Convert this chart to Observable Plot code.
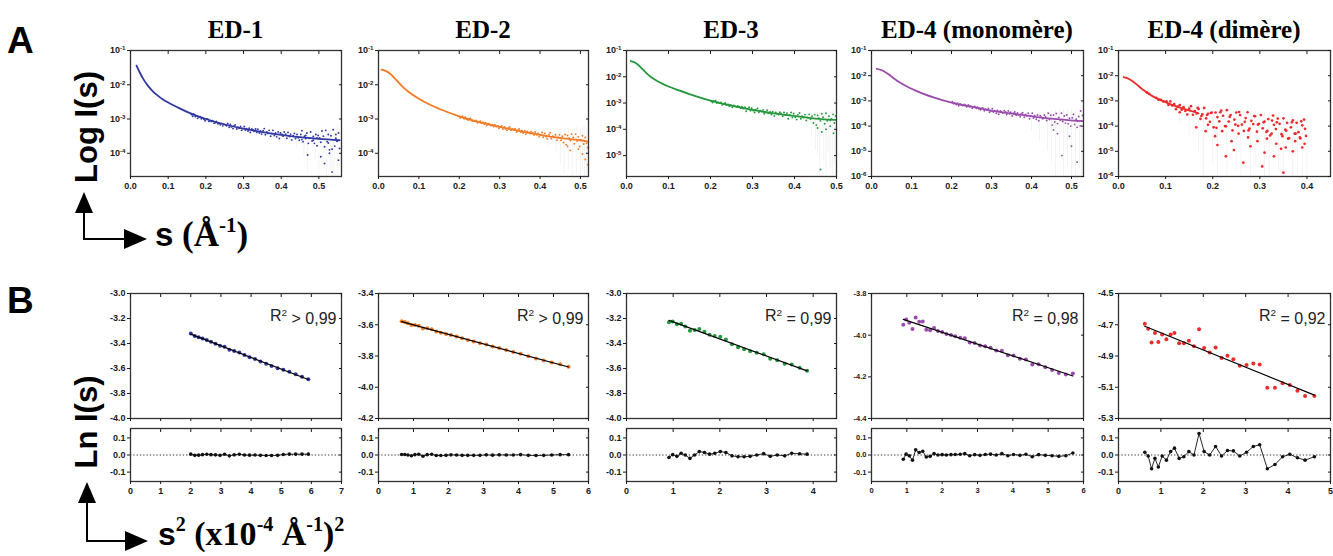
<!DOCTYPE html>
<html><head><meta charset="utf-8">
<script src="https://cdn.jsdelivr.net/npm/d3@7"></script>
<script src="https://cdn.jsdelivr.net/npm/@observablehq/plot@0.6"></script>
<style>
body{margin:0;background:#fff;}
#root{position:relative;width:1333px;height:556px;overflow:hidden;}
#root svg{position:absolute;}
</style></head><body><div id="root"></div>
<script>
// ---------------- DATA ----------------
const titles = ["ED-1", "ED-2", "ED-3", "ED-4 (monomère)", "ED-4 (dimère)"];
const r2Labels = ["R^2 > 0,99", "R^2 > 0,99", "R^2 = 0,99", "R^2 = 0,98", "R^2 = 0,92"];

// Panel A : axis ranges and ticks
const xDomA = [[0, 0.56], [0, 0.52], [0, 0.5], [0, 0.53], [0, 0.45]];
const yDomA = [[2.1e-5, 0.1], [2.1e-5, 0.1], [1.6e-6, 0.1], [1e-6, 0.1], [1e-6, 0.1]];
const xTicksA = [[0, .1, .2, .3, .4, .5], [0, .1, .2, .3, .4, .5], [0, .1, .2, .3, .4, .5], [0, .1, .2, .3, .4, .5], [0, .1, .2, .3, .4]];
const yExpA = [[-1, -2, -3, -4], [-1, -2, -3, -4], [-1, -2, -3, -4, -5], [-1, -2, -3, -4, -5, -6], [-1, -2, -3, -4, -5, -6]];

// Panel A : mean scattering curves [s, log10 I]
const curveA1 = [[0.016,-1.44],[0.025,-1.65],[0.035,-1.85],[0.045,-2.01],[0.055,-2.14],[0.065,-2.25],[0.075,-2.34],[0.085,-2.42],[0.1,-2.52],[0.125,-2.66],[0.15,-2.79],[0.2,-3.00],[0.25,-3.16],[0.3,-3.28],[0.35,-3.38],[0.4,-3.46],[0.45,-3.53],[0.5,-3.58],[0.555,-3.62]];
const curveA2 = [[0.007,-1.56],[0.02,-1.61],[0.03,-1.69],[0.04,-1.81],[0.05,-1.94],[0.06,-2.06],[0.075,-2.21],[0.1,-2.41],[0.125,-2.57],[0.15,-2.70],[0.2,-2.92],[0.25,-3.09],[0.3,-3.23],[0.35,-3.35],[0.4,-3.46],[0.45,-3.55],[0.5,-3.62],[0.518,-3.66]];
const curveA3 = [[0.01,-1.40],[0.02,-1.46],[0.03,-1.58],[0.04,-1.74],[0.05,-1.90],[0.06,-2.03],[0.075,-2.18],[0.1,-2.37],[0.125,-2.52],[0.15,-2.66],[0.2,-2.91],[0.25,-3.10],[0.3,-3.26],[0.35,-3.39],[0.4,-3.49],[0.45,-3.59],[0.498,-3.64]];
const curveA4 = [[0.013,-1.73],[0.025,-1.78],[0.035,-1.86],[0.045,-1.97],[0.058,-2.13],[0.07,-2.26],[0.085,-2.40],[0.106,-2.56],[0.13,-2.72],[0.155,-2.86],[0.205,-3.09],[0.256,-3.25],[0.306,-3.41],[0.355,-3.51],[0.405,-3.62],[0.456,-3.71],[0.506,-3.78],[0.528,-3.80]];
const curveA5 = [[0.011,-2.06],[0.021,-2.12],[0.03,-2.22],[0.043,-2.42],[0.055,-2.60],[0.072,-2.81],[0.085,-2.93],[0.1,-3.05],[0.12,-3.20],[0.136,-3.30],[0.155,-3.41],[0.17,-3.49]];

// Panel A : scattered points [s, log10 I]
const scatterA1 = [[0.162,-2.87],[0.165,-2.92],[0.168,-2.86],[0.172,-2.93],[0.175,-2.91],[0.178,-2.98],[0.182,-2.95],[0.185,-2.93],[0.188,-2.99],[0.192,-2.97],[0.195,-3.01],[0.198,-3.05],[0.202,-3.01],[0.205,-3.00],[0.208,-3.07],[0.212,-3.05],[0.215,-3.07],[0.218,-3.05],[0.222,-3.12],[0.225,-3.10],[0.228,-3.07],[0.232,-3.14],[0.235,-3.12],[0.238,-3.17],[0.242,-3.13],[0.245,-3.20],[0.248,-3.15],
[0.252,-3.17],[0.255,-3.20],[0.258,-3.13],[0.262,-3.24],[0.265,-3.16],[0.268,-3.23],[0.272,-3.28],[0.275,-3.20],[0.278,-3.17],[0.282,-3.29],[0.285,-3.24],[0.288,-3.27],[0.292,-3.22],[0.295,-3.33],[0.298,-3.28],[0.302,-3.22],[0.305,-3.32],[0.308,-3.28],[0.312,-3.35],[0.315,-3.27],[0.318,-3.39],[0.322,-3.29],[0.325,-3.32],[0.328,-3.36],[0.332,-3.29],[0.335,-3.39],[0.338,-3.30],[0.342,-3.41],[0.345,-3.35],[0.348,-3.44],
[0.352,-3.34],[0.355,-3.28],[0.358,-3.46],[0.362,-3.38],[0.365,-3.42],[0.368,-3.33],[0.372,-3.50],[0.375,-3.42],[0.378,-3.33],[0.382,-3.48],[0.385,-3.41],[0.388,-3.52],[0.392,-3.38],[0.395,-3.57],[0.398,-3.41],[0.402,-3.45],[0.405,-3.50],[0.408,-3.38],[0.412,-3.44],[0.415,-3.56],[0.418,-3.39],[0.422,-3.51],[0.425,-3.44],[0.428,-3.61],[0.432,-3.49],[0.435,-3.42],[0.438,-3.57],[0.442,-3.45],[0.445,-3.55],[0.448,-3.62],
[0.452,-3.45],[0.455,-3.34],[0.458,-3.66],[0.462,-3.50],[0.465,-3.57],[0.468,-3.41],[0.472,-3.71],[0.475,-3.56],[0.478,-3.38],[0.482,-3.64],[0.485,-3.51],[0.488,-3.71],[0.492,-3.45],[0.495,-3.78],[0.498,-3.48],[0.502,-3.55],[0.505,-3.68],[0.508,-3.35],[0.512,-3.50],[0.515,-3.81],[0.518,-3.33],[0.522,-3.66],[0.525,-3.45],[0.528,-3.90],[0.532,-3.49],[0.535,-3.88],[0.538,-3.31],[0.542,-3.79],[0.545,-3.56],[0.548,-3.65],[0.552,-3.41],[0.555,-3.86],
[0.455,-3.60],[0.465,-3.48],[0.485,-3.62],[0.495,-3.55],[0.525,-3.70],[0.545,-3.45],[0.47,-4.05],[0.505,-4.10],[0.515,-4.30],[0.535,-4.55],[0.552,-4.20],[0.528,-4.00]];
const scatterA2 = [[0.202,-2.97],[0.205,-2.94],[0.208,-2.92],[0.212,-2.99],[0.215,-2.95],[0.218,-3.00],[0.222,-3.03],[0.225,-2.99],[0.228,-2.98],[0.232,-3.06],[0.235,-3.04],[0.238,-3.06],[0.242,-3.04],[0.245,-3.11],[0.248,-3.09],[0.252,-3.06],[0.255,-3.12],[0.258,-3.10],[0.262,-3.15],[0.265,-3.11],[0.268,-3.19],[0.272,-3.14],[0.275,-3.16],[0.278,-3.19],[0.282,-3.17],[0.285,-3.22],[0.288,-3.17],[0.292,-3.22],[0.295,-3.20],[0.298,-3.27],
[0.302,-3.23],[0.305,-3.20],[0.308,-3.29],[0.312,-3.23],[0.315,-3.29],[0.318,-3.33],[0.322,-3.26],[0.325,-3.23],[0.328,-3.33],[0.332,-3.29],[0.335,-3.32],[0.338,-3.28],[0.342,-3.38],[0.345,-3.34],[0.348,-3.29],[0.352,-3.38],[0.355,-3.34],[0.358,-3.41],[0.362,-3.34],[0.365,-3.44],[0.368,-3.36],[0.372,-3.39],[0.375,-3.42],[0.378,-3.37],[0.382,-3.41],[0.385,-3.47],[0.388,-3.38],[0.392,-3.46],[0.395,-3.42],[0.398,-3.52],
[0.402,-3.46],[0.405,-3.39],[0.408,-3.53],[0.412,-3.42],[0.415,-3.52],[0.418,-3.58],[0.422,-3.46],[0.425,-3.40],[0.428,-3.57],[0.432,-3.50],[0.435,-3.53],[0.438,-3.46],[0.442,-3.62],[0.445,-3.54],[0.448,-3.46],
[0.452,-3.62],[0.455,-3.50],[0.458,-3.69],[0.462,-3.45],[0.465,-3.75],[0.468,-3.48],[0.472,-3.56],[0.475,-3.63],[0.478,-3.44],[0.482,-3.54],[0.485,-3.72],[0.488,-3.44],[0.492,-3.64],[0.495,-3.52],[0.498,-3.80],[0.502,-3.61],[0.505,-3.49],[0.508,-3.73],[0.512,-3.54],[0.515,-3.71],[0.518,-3.83],
[0.475,-3.92],[0.505,-4.02],[0.512,-4.18],[0.518,-4.33],[0.495,-3.88],[0.468,-3.80]];
const scatterA3 = [[0.202,-2.93],[0.205,-2.98],[0.208,-2.93],[0.212,-2.91],[0.215,-3.00],[0.218,-2.98],[0.222,-3.00],[0.225,-2.98],[0.228,-3.07],[0.232,-3.04],[0.235,-3.00],[0.238,-3.08],[0.242,-3.05],[0.245,-3.12],[0.248,-3.07],[0.252,-3.16],[0.255,-3.09],[0.258,-3.12],[0.262,-3.15],[0.265,-3.11],[0.268,-3.14],[0.272,-3.20],[0.275,-3.14],[0.278,-3.21],
[0.282,-3.16],[0.285,-3.31],[0.288,-3.22],[0.292,-3.16],[0.295,-3.29],[0.298,-3.20],[0.302,-3.29],[0.305,-3.36],[0.308,-3.25],[0.312,-3.21],[0.315,-3.35],[0.318,-3.29],[0.322,-3.32],[0.325,-3.26],[0.328,-3.41],[0.332,-3.35],[0.335,-3.27],[0.338,-3.39],[0.342,-3.34],[0.345,-3.44],[0.348,-3.33],[0.352,-3.49],[0.355,-3.36],[0.358,-3.40],[0.362,-3.44],[0.365,-3.35],[0.368,-3.40],[0.372,-3.50],[0.375,-3.36],[0.378,-3.46],
[0.382,-3.39],[0.385,-3.60],[0.388,-3.45],[0.392,-3.36],[0.395,-3.55],[0.398,-3.40],[0.402,-3.54],[0.405,-3.63],[0.408,-3.45],[0.412,-3.38],[0.415,-3.60],[0.418,-3.50],[0.422,-3.55],[0.425,-3.44],[0.428,-3.66],[0.432,-3.56],[0.435,-3.43],[0.438,-3.62],
[0.442,-3.50],[0.445,-3.76],[0.448,-3.44],[0.452,-3.84],[0.455,-3.47],[0.458,-3.58],[0.462,-3.68],[0.465,-3.41],[0.468,-3.54],[0.472,-3.79],[0.475,-3.39],[0.478,-3.67],[0.482,-3.50],[0.485,-3.88],[0.488,-3.61],[0.492,-3.43],[0.495,-3.76],[0.498,-3.49],
[0.462,-5.53],[0.455,-3.95],[0.465,-4.10],[0.475,-4.00],[0.493,-4.15],[0.485,-3.66]];
const scatterA4 = [[0.202,-3.03],[0.205,-3.11],[0.208,-3.08],[0.212,-3.14],[0.215,-3.09],[0.218,-3.19],[0.222,-3.12],[0.225,-3.15],[0.228,-3.18],[0.232,-3.14],[0.235,-3.17],[0.238,-3.23],[0.242,-3.16],[0.245,-3.23],[0.248,-3.20],[0.252,-3.29],[0.255,-3.24],[0.258,-3.22],[0.262,-3.29],[0.265,-3.25],[0.268,-3.31],[0.272,-3.35],[0.275,-3.30],[0.278,-3.28],
[0.282,-3.39],[0.285,-3.33],[0.288,-3.36],[0.292,-3.30],[0.295,-3.45],[0.298,-3.39],[0.302,-3.31],[0.305,-3.44],[0.308,-3.39],[0.312,-3.49],[0.315,-3.38],[0.318,-3.53],[0.322,-3.40],[0.325,-3.44],[0.328,-3.48],[0.332,-3.39],[0.335,-3.44],[0.338,-3.54],[0.342,-3.40],[0.345,-3.51],[0.348,-3.45],[0.352,-3.60],[0.355,-3.50],[0.358,-3.44],[0.362,-3.57],[0.365,-3.48],[0.368,-3.56],[0.372,-3.63],[0.375,-3.51],[0.378,-3.47],
[0.382,-3.65],[0.385,-3.54],[0.388,-3.59],[0.392,-3.49],[0.395,-3.71],[0.398,-3.61],[0.402,-3.49],[0.405,-3.68],[0.408,-3.58],[0.412,-3.73],[0.415,-3.56],[0.418,-3.79],[0.422,-3.59],[0.425,-3.65],[0.428,-3.71],[0.432,-3.56],[0.435,-3.63],[0.438,-3.78],
[0.442,-3.49],[0.445,-3.74],[0.448,-3.57],[0.452,-3.96],[0.455,-3.56],[0.458,-3.84],[0.462,-3.50],[0.465,-3.90],[0.468,-3.66],[0.472,-3.76],[0.475,-3.49],[0.478,-3.82],[0.482,-3.60],[0.485,-3.88],[0.488,-3.56],[0.492,-3.91],[0.495,-3.69],[0.498,-4.00],[0.502,-3.67],[0.505,-3.53],[0.508,-3.93],[0.512,-3.73],[0.515,-3.81],[0.518,-3.62],[0.522,-3.99],[0.525,-3.80],[0.528,-3.58],
[0.476,-5.17],[0.514,-5.43],[0.50,-4.80],[0.523,-3.40],[0.465,-4.30],[0.495,-4.40],[0.455,-4.15],[0.514,-4.05]];
const scatterA5 = [[0.06,-2.66],[0.065,-2.72],[0.08,-2.88],[0.085,-2.95],[0.09,-2.96],[0.095,-3.02],
[0.102,-3.02],[0.106,-3.16],[0.110,-3.02],[0.114,-3.18],[0.118,-3.13],[0.122,-3.33],[0.126,-3.23],[0.130,-3.17],[0.134,-3.35],[0.138,-3.25],[0.142,-3.40],[0.146,-3.54],[0.150,-3.31],[0.154,-3.21],[0.158,-3.55],
[0.162,-3.40],[0.166,-3.50],[0.170,-3.32],[0.174,-3.71],[0.178,-3.53],[0.182,-3.28],[0.186,-3.69],[0.190,-3.51],[0.194,-3.83],[0.198,-3.46],[0.202,-4.05],[0.206,-3.46],[0.210,-3.64],[0.214,-3.81],[0.218,-3.38],
[0.222,-3.59],[0.226,-4.00],[0.230,-3.37],[0.234,-3.82],[0.238,-3.56],[0.242,-4.17],[0.246,-3.74],[0.250,-3.46],[0.254,-3.99],[0.258,-3.56],[0.262,-3.94],[0.266,-4.19],[0.270,-3.68],[0.274,-3.45],[0.278,-4.10],
[0.282,-3.79],[0.286,-3.92],[0.290,-3.61],[0.294,-4.22],[0.298,-3.91],[0.302,-3.56],[0.306,-4.09],[0.310,-3.82],[0.314,-4.23],[0.318,-3.72],[0.322,-4.37],[0.326,-3.78],[0.330,-3.95],[0.334,-4.12],[0.338,-3.70],
[0.342,-3.91],[0.346,-4.32],[0.350,-3.69],[0.354,-4.14],[0.358,-3.87],[0.362,-4.48],[0.366,-4.05],[0.370,-3.77],[0.374,-4.30],[0.378,-3.87],[0.382,-4.24],[0.386,-4.49],[0.390,-3.97],[0.394,-3.74],[0.398,-4.39],
[0.168,-3.28],[0.176,-3.60],[0.188,-3.56],[0.196,-3.48],[0.208,-4.07],[0.216,-3.45],[0.228,-4.01],[0.236,-3.63],[0.248,-3.94],[0.256,-3.44],[0.268,-3.83],[0.276,-4.17],[0.288,-3.60],[0.296,-3.94],[0.308,-3.85],[0.316,-4.19],[0.328,-3.58],[0.336,-3.85],[0.348,-4.40],[0.356,-4.18],[0.368,-3.85],[0.376,-4.30],[0.388,-3.81],[0.396,-4.11],
[0.228,-5.20],[0.35,-5.85],[0.265,-5.45],[0.305,-5.60],[0.24,-4.60],[0.205,-4.40],[0.295,-4.60],[0.335,-4.70],[0.355,-4.85],[0.375,-4.60],[0.395,-4.70],[0.315,-4.50],[0.275,-4.45],[0.185,-4.20],[0.165,-4.05],[0.255,-4.30],[0.325,-4.30],[0.385,-4.45],[0.22,-4.20],[0.36,-4.50],[0.19,-3.95],[0.13,-3.45],
[0.21,-4.75],[0.245,-4.95],[0.28,-4.80],[0.31,-5.05],[0.345,-4.90],[0.37,-5.00],[0.39,-4.85],[0.33,-5.20]];

// Panel A : error bars [s, log10 top, log10 bottom]
const errA1 = [[0.38,-3.30,-3.62],[0.40,-3.32,-3.66],[0.42,-3.33,-3.72],[0.44,-3.35,-3.85],[0.46,-3.30,-4.10],[0.47,-3.32,-4.60],[0.49,-3.30,-4.20],[0.50,-3.28,-4.70],[0.51,-3.30,-4.40],[0.52,-3.25,-4.80],[0.53,-3.30,-4.50],[0.535,-3.25,-4.70],[0.54,-3.28,-4.80],[0.55,-3.20,-4.70]];
const errA2 = [[0.42,-3.35,-3.80],[0.44,-3.30,-4.00],[0.45,-3.30,-4.30],[0.46,-3.32,-4.60],[0.47,-3.28,-4.50],[0.48,-3.30,-4.70],[0.49,-3.25,-4.60],[0.50,-3.30,-4.70],[0.505,-3.25,-4.50],[0.51,-3.22,-4.70],[0.515,-3.28,-4.60]];
const errA3 = [[0.43,-3.40,-4.00],[0.44,-3.38,-4.30],[0.45,-3.40,-4.80],[0.455,-3.35,-5.00],[0.46,-3.35,-5.80],[0.47,-3.35,-5.20],[0.475,-3.30,-5.80],[0.48,-3.35,-4.90],[0.485,-3.30,-5.50],[0.49,-3.30,-5.80],[0.495,-3.30,-5.30]];
const errA4 = [[0.40,-3.45,-4.20],[0.42,-3.45,-4.60],[0.44,-3.42,-5.00],[0.45,-3.40,-5.50],[0.46,-3.40,-6.00],[0.47,-3.38,-5.20],[0.48,-3.38,-6.00],[0.49,-3.35,-5.60],[0.50,-3.35,-6.00],[0.51,-3.35,-6.00],[0.52,-3.35,-5.70],[0.525,-3.30,-6.00]];
const errA5 = [[0.13,-3.10,-3.90],[0.15,-3.10,-4.40],[0.17,-3.15,-5.00],[0.18,-3.20,-6.00],[0.20,-3.20,-5.50],[0.21,-3.20,-6.00],[0.23,-3.30,-6.00],[0.25,-3.30,-5.80],[0.26,-3.35,-6.00],[0.28,-3.40,-6.00],[0.29,-3.40,-5.60],[0.31,-3.45,-6.00],[0.32,-3.45,-6.00],[0.34,-3.50,-5.80],[0.35,-3.50,-6.00],[0.37,-3.55,-6.00],[0.38,-3.55,-5.90],[0.39,-3.60,-6.00],[0.40,-3.60,-6.00]];

// Panel B : axis ranges and ticks
const xDomB = [[0, 7], [0, 6], [0, 4.5], [0, 6], [0, 5]];
const xTicksB = [[0,1,2,3,4,5,6,7], [0,1,2,3,4,5,6], [0,1,2,3,4], [0,1,2,3,4,5,6], [0,1,2,3,4,5]];
const yDomB = [[-4.0, -3.0], [-4.2, -3.4], [-4.0, -3.0], [-4.4, -3.8], [-5.3, -4.5]];
const yTicksB = [[-3.0,-3.2,-3.4,-3.6,-3.8,-4.0], [-3.4,-3.6,-3.8,-4.0,-4.2], [-3.0,-3.2,-3.4,-3.6,-3.8,-4.0], [-3.8,-4.0,-4.2,-4.4], [-4.5,-4.7,-4.9,-5.1,-5.3]];
const resDom = [-0.155, 0.155];
const resTicks = [0.1, 0.0, -0.1];

// Panel B : Guinier data  s² (x10^-4 Å^-2), ln I, residuals
const s2B1 = [2.00,2.13,2.26,2.39,2.53,2.67,2.82,2.97,3.12,3.28,3.44,3.61,3.78,3.95,4.13,4.31,4.50,4.68,4.88,5.07,5.27,5.48,5.69,5.90];
const lnB1 = [-3.320,-3.339,-3.350,-3.360,-3.371,-3.386,-3.401,-3.418,-3.426,-3.450,-3.459,-3.472,-3.492,-3.509,-3.524,-3.543,-3.562,-3.579,-3.597,-3.609,-3.626,-3.646,-3.665,-3.685];
const resB1 = [0.005,-0.002,-0.001,0.002,0.004,0.002,0.001,-0.002,0.004,-0.005,0.001,0.004,0,-0.001,0,-0.002,-0.003,-0.003,-0.002,0.003,0.005,0.005,0.005,0.005];
const s2B2 = [0.66,0.75,0.84,0.94,1.04,1.15,1.27,1.39,1.52,1.65,1.78,1.93,2.07,2.23,2.39,2.55,2.72,2.90,3.08,3.26,3.45,3.65,3.85,4.06,4.28,4.50,4.72,4.95,5.19,5.43];
const lnB2 = [-3.577,-3.582,-3.591,-3.601,-3.601,-3.606,-3.624,-3.622,-3.628,-3.643,-3.651,-3.659,-3.665,-3.675,-3.687,-3.697,-3.707,-3.718,-3.726,-3.739,-3.749,-3.762,-3.774,-3.785,-3.802,-3.816,-3.829,-3.841,-3.853,-3.868];
const resB2 = [0.003,0.003,0,-0.004,0.002,0.004,-0.007,0.002,0.004,-0.003,-0.003,-0.002,0.001,0,-0.002,-0.002,-0.002,-0.002,0.001,-0.001,0.001,0,0,0.002,-0.002,-0.003,-0.002,0,0.002,0.002];
const s2B3 = [0.91,0.99,1.08,1.17,1.26,1.36,1.46,1.56,1.67,1.78,1.89,2.01,2.13,2.26,2.39,2.52,2.65,2.79,2.94,3.08,3.23,3.39,3.54,3.71,3.87];
const lnB3 = [-3.230,-3.224,-3.246,-3.241,-3.263,-3.297,-3.291,-3.284,-3.305,-3.330,-3.340,-3.346,-3.368,-3.406,-3.429,-3.446,-3.462,-3.474,-3.486,-3.521,-3.534,-3.561,-3.567,-3.593,-3.617];
const resB3 = [-0.015,0.002,-0.008,0.010,0,-0.020,0,0.020,0.015,0.005,0.010,0.020,0.015,-0.005,-0.010,-0.010,-0.008,0,0.008,-0.008,0,-0.005,0.010,0.007,0.005];
const s2B4 = [0.90,0.98,1.07,1.16,1.25,1.35,1.45,1.55,1.66,1.77,1.88,2.00,2.12,2.25,2.37,2.51,2.64,2.78,2.92,3.07,3.22,3.37,3.53,3.69,3.86,4.02,4.20,4.37,4.55,4.73,4.92,5.11,5.30,5.50,5.70];
const lnB4 = [-3.950,-3.925,-3.940,-3.970,-3.915,-3.935,-3.934,-3.974,-3.976,-3.966,-3.980,-3.985,-3.994,-3.999,-4.005,-4.012,-4.015,-4.035,-4.037,-4.050,-4.053,-4.060,-4.074,-4.075,-4.096,-4.098,-4.113,-4.117,-4.141,-4.139,-4.154,-4.167,-4.182,-4.189,-4.184];
const resB4 = [-0.025,0.005,-0.005,-0.030,0.030,0.015,0.022,-0.012,-0.008,0.008,0,0.002,0,0.002,0.003,0.004,0.008,-0.004,0.002,-0.002,0.003,0.005,0,0.008,-0.004,0.003,-0.002,0.004,-0.010,0.002,-0.002,-0.004,-0.008,-0.004,0.012];
const s2B5 = [0.62,0.70,0.78,0.86,0.94,1.03,1.13,1.23,1.32,1.43,1.54,1.66,1.78,1.90,2.02,2.15,2.29,2.43,2.57,2.71,2.86,3.02,3.18,3.33,3.51,3.69,3.87,4.04,4.22,4.40,4.62];
const lnB5 = [-4.693,-4.725,-4.814,-4.752,-4.810,-4.763,-4.793,-4.763,-4.752,-4.818,-4.818,-4.803,-4.837,-4.729,-4.848,-4.878,-4.846,-4.912,-4.899,-4.920,-4.963,-4.958,-4.948,-4.954,-5.103,-5.103,-5.075,-5.086,-5.122,-5.156,-5.156];
const resB5 = [0.016,-0.006,-0.080,-0.020,-0.070,-0.006,-0.030,0.020,0.040,-0.020,-0.010,0.020,0,0.126,0.020,0,0.050,-0.006,0.026,0.024,-0.006,0.016,0.050,0.060,-0.080,-0.056,-0.010,0.004,-0.016,-0.030,-0.010];

// ---------------- LAYOUT / STYLE ----------------
const colors = ["#3138a2", "#f47a25", "#24983c", "#9a4cac", "#ee2b2b"];
const frames = [[130, 341], [378, 588], [626, 836], [871, 1083], [1118, 1330]];
const sans = '"Liberation Sans", Arial, Helvetica, sans-serif';
const serif = '"Liberation Serif", "Times New Roman", serif';
const root = document.getElementById("root");

const curvesA = [curveA1, curveA2, curveA3, curveA4, curveA5];
const scattersA = [scatterA1, scatterA2, scatterA3, scatterA4, scatterA5];
const errsA = [errA1, errA2, errA3, errA4, errA5];
const s2B = [s2B1, s2B2, s2B3, s2B4, s2B5];
const lnB = [lnB1, lnB2, lnB3, lnB4, lnB5];
const resB = [resB1, resB2, resB3, resB4, resB5];

function place(svg, left, top) {
  svg.style.position = "absolute";
  svg.style.left = left + "px";
  svg.style.top = top + "px";
  root.appendChild(svg);
}
function style(fs) {
  return {fontFamily: sans, fontSize: fs + "px", fontWeight: "bold", color: "#1a1a1a", background: "transparent", overflow: "visible"};
}
const frameStyle = {stroke: "#333", strokeWidth: 1.3};

// overlay for panel letters, titles, axis-arrow legends
const ov = d3.select(root).append("svg").attr("width", 1333).attr("height", 556)
  .style("left", "0px").style("top", "0px").style("white-space", "pre");
ov.append("text").attr("x", 7).attr("y", 53).attr("font-family", sans).attr("font-weight", "bold").attr("font-size", 37).text("A");
ov.append("text").attr("x", 7).attr("y", 313).attr("font-family", sans).attr("font-weight", "bold").attr("font-size", 37).text("B");
titles.forEach((t, i) => {
  ov.append("text").attr("x", (frames[i][0] + frames[i][1]) / 2).attr("y", 38)
    .attr("text-anchor", "middle").attr("font-family", serif).attr("font-weight", "bold")
    .attr("font-size", 25).text(t);
});
ov.append("text").attr("transform", "translate(97,127) rotate(-90)").attr("text-anchor", "middle")
  .attr("font-family", sans).attr("font-weight", "bold").attr("font-size", 31).text("Log I(s)");
ov.append("text").attr("transform", "translate(97,422) rotate(-90)").attr("text-anchor", "middle")
  .attr("font-family", sans).attr("font-weight", "bold").attr("font-size", 31).text("Ln I(s)");

function arrows(x, yTip, yCorner, xTip) {
  const g = ov.append("g").attr("stroke", "#000").attr("fill", "#000");
  g.append("line").attr("x1", x).attr("y1", yCorner).attr("x2", x).attr("y2", yTip + 18).attr("stroke-width", 2);
  g.append("line").attr("x1", x - 1).attr("y1", yCorner).attr("x2", xTip - 20).attr("y2", yCorner).attr("stroke-width", 2);
  g.append("path").attr("stroke", "none").attr("d", `M${x - 9},${yTip + 21}L${x + 9},${yTip + 21}L${x},${yTip}Z`);
  g.append("path").attr("stroke", "none").attr("d", `M${xTip - 23},${yCorner - 10}L${xTip - 23},${yCorner + 10}L${xTip},${yCorner}Z`);
}
arrows(84, 192, 239, 147);
arrows(87, 482, 541, 148);

function richText(x, y, size, parts) {
  const t = ov.append("text").attr("x", x).attr("y", y).attr("font-weight", "bold").attr("font-family", serif).attr("font-size", size);
  let shift = 0;
  const sup = Math.round(size * 0.6), rise = Math.round(size * 0.4);
  for (const [txt, kind] of parts) {
    const sp = t.append("tspan").text(txt);
    if (kind === "sans") sp.attr("font-family", sans).attr("font-size", size - 2);
    if (kind === "sup") { sp.attr("font-size", sup).attr("dy", shift ? 0 : -rise); shift = rise; }
    else if (shift !== 0) { sp.attr("dy", shift); shift = 0; }
  }
}
richText(155, 246, 35, [["s", "sans"], [" (Å", ""], ["-1", "sup"], [")", ""]]);
richText(158, 545, 34, [["s", "sans"], ["2", "sup"], [" (x10", ""], ["-4", "sup"], [" Å", ""], ["-1", "sup"], [")", ""], ["2", "sup"]]);

// turn "a^b rest" texts into base + superscript tspans
function superscripts(svg, selector, rise, scale) {
  d3.select(svg).selectAll(selector).each(function () {
    const t = this.textContent;
    if (!t.includes("^")) return;
    const [base, rest] = t.split("^");
    const exp = rest.split(" ")[0];
    const tail = rest.slice(exp.length);
    const s = d3.select(this);
    s.text(null);
    s.append("tspan").text(base);
    s.append("tspan").attr("dy", `-${rise}em`).attr("font-size", `${scale}em`).text(exp);
    if (tail) s.append("tspan").attr("dy", `${rise}em`).text(tail);
  });
}

// ---------------- PANEL A ----------------
for (let i = 0; i < 5; i++) {
  const [fl, fr] = frames[i];
  const mL = 34, mR = 4, mT = 4, mB = 20, h = 126;
  const color = colors[i];
  const curve = curvesA[i].map(([s, lg]) => ({s, I: 10 ** lg}));
  const pts = scattersA[i].map(([s, lg]) => ({s, I: 10 ** lg}));
  const errs = errsA[i].map(([s, a, b]) => ({s, hi: 10 ** a, lo: Math.max(10 ** b, yDomA[i][0])}));
  const yt = yExpA[i].map(e => 10 ** e);
  const svg = Plot.plot({
    width: mL + (fr - fl) + mR, height: mT + h + mB,
    marginLeft: mL, marginRight: mR, marginTop: mT, marginBottom: mB,
    style: style(9),
    x: {domain: xDomA[i]},
    y: {type: "log", domain: yDomA[i]},
    marks: [
      Plot.ruleX(errs, {x: "s", y1: "lo", y2: "hi", stroke: "#c4c4c4", strokeOpacity: 0.35, strokeWidth: 0.6, clip: true}),
      Plot.line(curve, {x: "s", y: "I", stroke: color, strokeWidth: 1.8, curve: "monotone-x", clip: true}),
      Plot.dot(pts, {x: "s", y: "I", r: i === 4 ? 1.35 : 0.95, fill: color, clip: true}),
      Plot.frame(frameStyle),
      Plot.axisX(xTicksA[i], {anchor: "bottom", tickSize: 3, tickPadding: 3, tickFormat: d3.format(".1f"), label: null}),
      Plot.axisX(xTicksA[i], {anchor: "top", tickSize: -3, tickFormat: () => "", label: null}),
      Plot.axisY(yt, {anchor: "left", tickSize: 3, tickPadding: 2, tickFormat: d => "10^" + Math.round(Math.log10(d)), label: null}),
      Plot.axisY(yt, {anchor: "right", tickSize: -3, tickFormat: () => "", label: null})
    ]
  });
  superscripts(svg, 'g[aria-label="y-axis tick label"] text', 0.5, 0.68);
  place(svg, fl - mL, 50 - mT);
}

// ---------------- PANEL B ----------------
for (let i = 0; i < 5; i++) {
  const [fl, fr] = frames[i];
  const mL = 34, mR = 4;
  const fs = i === 3 ? 7.5 : 9;
  const color = colors[i];
  const pts = s2B[i].map((x, k) => ({x, y: lnB[i][k]}));
  const res = s2B[i].map((x, k) => ({x, r: resB[i][k]}));
  const fmt = d => d.toFixed(1);

  const top = Plot.plot({
    width: mL + (fr - fl) + mR, height: 4 + 125 + 6,
    marginLeft: mL, marginRight: mR, marginTop: 4, marginBottom: 6,
    style: style(fs),
    x: {domain: xDomB[i]},
    y: {domain: yDomB[i]},
    marks: [
      Plot.dot(pts, {x: "x", y: "y", r: 2, fill: color}),
      Plot.linearRegressionY(pts, {x: "x", y: "y", stroke: "#000", strokeWidth: 1.2, ci: 0}),
      Plot.frame(frameStyle),
      Plot.text([r2Labels[i]], {frameAnchor: "top-right", dx: -5, dy: 16, text: d => d, fontSize: 16, fontWeight: "normal", fill: "#222", textAnchor: "end"}),
      Plot.axisX(xTicksB[i], {anchor: "bottom", tickSize: 3, tickFormat: () => "", label: null}),
      Plot.axisX(xTicksB[i], {anchor: "top", tickSize: -3, tickFormat: () => "", label: null}),
      Plot.axisY(yTicksB[i], {anchor: "left", tickSize: 3, tickPadding: 2, tickFormat: fmt, label: null}),
      Plot.axisY(yTicksB[i], {anchor: "right", tickSize: -3, tickFormat: () => "", label: null})
    ]
  });
  superscripts(top, 'g[aria-label="text"] text', 0.45, 0.62);
  place(top, fl - mL, 293 - 4);

  const bot = Plot.plot({
    width: mL + (fr - fl) + mR, height: 4 + 53 + 20,
    marginLeft: mL, marginRight: mR, marginTop: 4, marginBottom: 20,
    style: style(fs),
    x: {domain: xDomB[i]},
    y: {domain: resDom},
    marks: [
      Plot.ruleY([0], {stroke: "#333", strokeWidth: 1, strokeDasharray: "1.3,2"}),
      Plot.line(res, {x: "x", y: "r", stroke: "#111", strokeWidth: 0.9}),
      Plot.dot(res, {x: "x", y: "r", r: 1.8, fill: "#111"}),
      Plot.frame(frameStyle),
      Plot.axisX(xTicksB[i], {anchor: "bottom", tickSize: 3, tickPadding: 3, tickFormat: d => String(d), label: null}),
      Plot.axisX(xTicksB[i], {anchor: "top", tickSize: -3, tickFormat: () => "", label: null}),
      Plot.axisY(resTicks, {anchor: "left", tickSize: 3, tickPadding: 2, tickFormat: fmt, label: null}),
      Plot.axisY(resTicks, {anchor: "right", tickSize: -3, tickFormat: () => "", label: null})
    ]
  });
  place(bot, fl - mL, 428 - 4);
}
</script>
</body></html>
